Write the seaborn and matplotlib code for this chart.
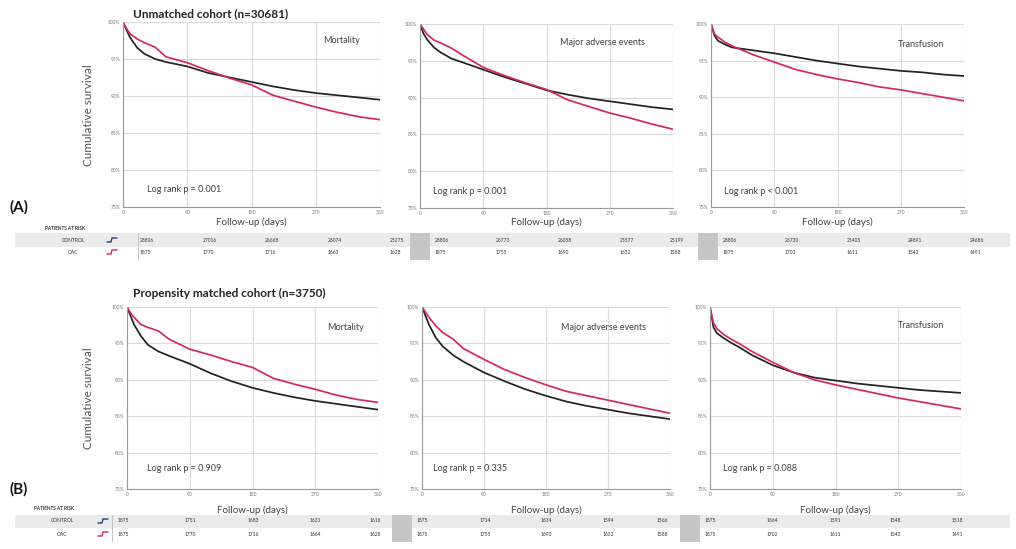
import numpy as np
import pandas as pd
import matplotlib
matplotlib.use("Agg")
import matplotlib.pyplot as plt
from matplotlib.lines import Line2D
from matplotlib.patches import Rectangle
import seaborn as sns

sns.set_theme(style="whitegrid")
plt.rcParams['font.family'] = ['Lato', 'DejaVu Sans']

# Dados (leitura aproximada do gráfico)
days = [0, 5, 10, 20, 30, 45, 60, 90, 120, 150, 180, 210, 240, 270, 300, 330, 360]

# Unmatched cohort
unm_mort_ctrl = [100, 98.9, 97.9, 96.5, 95.7, 95.0, 94.6, 94.0, 93.1, 92.5, 91.9, 91.3, 90.8, 90.4, 90.1, 89.8, 89.5]
unm_mort_oac = [100, 99.1, 98.4, 97.7, 97.2, 96.6, 95.3, 94.5, 93.4, 92.4, 91.5, 90.1, 89.3, 88.5, 87.8, 87.2, 86.8]
unm_mae_ctrl = [100, 98.7, 97.9, 96.8, 96.1, 95.3, 94.8, 93.8, 92.8, 91.9, 91.0, 90.4, 89.9, 89.5, 89.1, 88.7, 88.4]
unm_mae_oac = [100, 99.3, 98.6, 97.8, 97.4, 96.7, 95.8, 94.1, 93.0, 92.0, 91.1, 89.7, 88.8, 87.9, 87.2, 86.4, 85.7]
unm_trans_ctrl = [100, 98.4, 97.7, 97.2, 96.8, 96.6, 96.4, 96.0, 95.5, 95.0, 94.6, 94.2, 93.9, 93.6, 93.4, 93.1, 92.9]
unm_trans_oac = [100, 98.6, 98.2, 97.5, 97.0, 96.4, 95.8, 94.8, 93.8, 93.1, 92.5, 92.0, 91.4, 91.0, 90.5, 90.0, 89.5]

# Propensity matched cohort
pm_mort_ctrl = [100, 98.8, 97.6, 96.0, 94.8, 93.9, 93.3, 92.2, 90.9, 89.8, 88.9, 88.2, 87.6, 87.1, 86.7, 86.3, 85.9]
pm_mort_oac = [100, 99.2, 98.6, 97.6, 97.2, 96.7, 95.6, 94.2, 93.4, 92.5, 91.7, 90.2, 89.4, 88.7, 87.9, 87.3, 86.9]
pm_mae_ctrl = [100, 98.8, 97.6, 95.8, 94.6, 93.4, 92.5, 91.0, 89.8, 88.7, 87.8, 87.0, 86.4, 85.9, 85.4, 85.0, 84.6]
pm_mae_oac = [100, 99.3, 98.6, 97.4, 96.5, 95.6, 94.3, 92.8, 91.4, 90.3, 89.3, 88.4, 87.8, 87.2, 86.6, 86.0, 85.4]
pm_trans_ctrl = [100, 97.2, 96.4, 95.7, 95.1, 94.3, 93.4, 92.0, 91.0, 90.3, 89.9, 89.5, 89.2, 88.9, 88.6, 88.4, 88.2]
pm_trans_oac = [100, 97.8, 97.0, 96.2, 95.6, 94.8, 93.9, 92.4, 91.0, 90.0, 89.3, 88.7, 88.1, 87.5, 87.0, 86.5, 86.0]

outcomes = ['Mortality', 'Major adverse events', 'Transfusion']
pvals_top = ['Log rank p = 0.001', 'Log rank p = 0.001', 'Log rank p < 0.001']
pvals_bottom = ['Log rank p = 0.909', 'Log rank p = 0.335', 'Log rank p = 0.088']

x_ticks = [0, 90, 180, 270, 360]
y_ticks = [75, 80, 85, 90, 95, 100]
y_tick_labels = ['75%', '80%', '85%', '90%', '95%', '100%']

# Patients at risk
risk_top_ctrl = [[28806, 27016, 26668, 26074, 25275],
                 [28806, 26773, 26058, 25577, 25199],
                 [28806, 26730, 25405, 24891, 24686]]
risk_top_oac = [[1875, 1770, 1716, 1663, 1628],
                [1875, 1755, 1690, 1632, 1588],
                [1875, 1700, 1611, 1543, 1491]]
risk_bot_ctrl = [[1875, 1751, 1683, 1631, 1616],
                 [1875, 1714, 1634, 1594, 1566],
                 [1875, 1664, 1591, 1548, 1518]]
risk_bot_oac = [[1875, 1770, 1716, 1664, 1628],
                [1875, 1755, 1690, 1632, 1588],
                [1875, 1700, 1611, 1543, 1491]]

# Layout (pixels)
W, H = 1016, 549
BLACK = '#222222'
RED = '#d42a5b'
TXT = '#404040'

fig = plt.figure(figsize=(W / 100, H / 100), dpi=100)
fig.patch.set_facecolor('white')


def fx(x):
    return x / W


def fy(y):
    return 1 - y / H


def rect(x0, x1, y0, y1):
    return [x0 / W, 1 - y1 / H, (x1 - x0) / W, (y1 - y0) / H]


top_rects = [(123, 380, 22, 207), (420, 673, 24, 208), (711, 964, 24, 207)]
bot_rects = [(127, 378, 307, 489), (422, 670, 307, 489), (710, 961, 307, 489)]

top_curves = [(unm_mort_ctrl, unm_mort_oac), (unm_mae_ctrl, unm_mae_oac), (unm_trans_ctrl, unm_trans_oac)]
bot_curves = [(pm_mort_ctrl, pm_mort_oac), (pm_mae_ctrl, pm_mae_oac), (pm_trans_ctrl, pm_trans_oac)]

label_pos = [(0.85, 0.90), (0.72, 0.90), (0.83, 0.89)]
label_pos_bot = [(0.87, 0.89), (0.73, 0.89), (0.84, 0.90)]
p_pos = [(0.093, 0.097), (0.05, 0.09), (0.05, 0.085)]
p_pos_bot = [(0.08, 0.115), (0.045, 0.115), (0.05, 0.115)]


def draw_panel(r, curves, name, name_xy, ptxt, p_xy):
    ax = fig.add_axes(rect(*r))
    df = pd.DataFrame({
        'day': days * 2,
        'surv': curves[0] + curves[1],
        'grupo': ['CONTROL'] * len(days) + ['OAC'] * len(days),
    })
    sns.lineplot(data=df, x='day', y='surv', hue='grupo',
                 palette={'CONTROL': BLACK, 'OAC': RED},
                 linewidth=1.25, legend=False, ax=ax)
    ax.set_xlim(0, 360)
    ax.set_ylim(75, 100)
    ax.set_xticks(x_ticks)
    ax.set_xticklabels([str(t) for t in x_ticks])
    ax.set_yticks(y_ticks)
    ax.set_yticklabels(y_tick_labels)
    ax.tick_params(labelsize=3.5, colors='#777777', length=0, pad=2)
    ax.grid(True, color='#dadada', linewidth=0.8)
    ax.set_xlabel('')
    ax.set_ylabel('')
    ax.set_facecolor('white')
    for s in ['top', 'right']:
        ax.spines[s].set_visible(False)
    for s in ['left', 'bottom']:
        ax.spines[s].set_color('#9a9a9a')
        ax.spines[s].set_linewidth(0.8)
    ax.text(name_xy[0], name_xy[1], name, transform=ax.transAxes,
            ha='center', va='center', fontsize=6.5, color=TXT)
    ax.text(p_xy[0], p_xy[1], ptxt, transform=ax.transAxes,
            ha='left', va='center', fontsize=6.5, color=TXT)
    return ax


for i in range(3):
    draw_panel(top_rects[i], top_curves[i], outcomes[i], label_pos[i], pvals_top[i], p_pos[i])
    draw_panel(bot_rects[i], bot_curves[i], outcomes[i], label_pos_bot[i], pvals_bottom[i], p_pos_bot[i])
    cx_t = (top_rects[i][0] + top_rects[i][1]) / 2
    cx_b = (bot_rects[i][0] + bot_rects[i][1]) / 2
    fig.text(fx(cx_t), fy(222), 'Follow-up (days)', ha='center', va='center', fontsize=7, color=TXT)
    fig.text(fx(cx_b), fy(510), 'Follow-up (days)', ha='center', va='center', fontsize=7, color=TXT)

# Títulos e rótulos gerais
fig.text(fx(133), fy(14), 'Unmatched cohort (n=30681)', ha='left', va='center',
         fontsize=8.5, fontweight='bold', color='#222222')
fig.text(fx(133), fy(293), 'Propensity matched cohort (n=3750)', ha='left', va='center',
         fontsize=8.5, fontweight='bold', color='#222222')
fig.text(fx(88), fy(115), 'Cumulative survival', rotation=90, ha='center', va='center',
         fontsize=8.5, color='#555555')
fig.text(fx(88), fy(398), 'Cumulative survival', rotation=90, ha='center', va='center',
         fontsize=8.5, color='#555555')
fig.text(fx(10), fy(207), '(A)', ha='left', va='center', fontsize=11, fontweight='bold', color='#111111')
fig.text(fx(10), fy(489), '(B)', ha='left', va='center', fontsize=11, fontweight='bold', color='#111111')


def icon(x, y, color):
    xs = [x, x + 4, x + 5, x + 10]
    ys = [y + 2, y + 2, y - 2, y - 2]
    fig.add_artist(Line2D([fx(v) for v in xs], [fy(v) for v in ys], color=color,
                          linewidth=1.0, transform=fig.transFigure))


def risk_table(y_head, y_band, y_rows, label_x, icon_x, sep_x, cols, squares, ctrl, oac):
    fig.text(fx(label_x - 28), fy(y_head), 'PATIENTS AT RISK', ha='left', va='center',
             fontsize=3.3, fontweight='bold', color='#333333')
    fig.add_artist(Rectangle((fx(15), fy(y_band[1])), fx(1010) - fx(15), fy(y_band[0]) - fy(y_band[1]),
                             transform=fig.transFigure, facecolor='#ebebeb', edgecolor='none', zorder=0))
    for sx in squares:
        fig.add_artist(Rectangle((fx(sx), fy(y_rows[1] + 8)), fx(sx + 20) - fx(sx),
                                 fy(y_band[0]) - fy(y_rows[1] + 8),
                                 transform=fig.transFigure, facecolor='#c6c6c6', edgecolor='none', zorder=1))
    if sep_x is not None:
        fig.add_artist(Line2D([fx(sep_x), fx(sep_x)], [fy(y_band[0]), fy(y_rows[1] + 7)],
                              color='#bbbbbb', linewidth=0.6, transform=fig.transFigure))
    fig.text(fx(label_x), fy(y_rows[0]), 'CONTROL', ha='center', va='center', fontsize=3.5, color='#333333')
    fig.text(fx(label_x), fy(y_rows[1]), 'OAC', ha='center', va='center', fontsize=3.5, color='#333333')
    icon(icon_x, y_rows[0], '#2b3f7a')
    icon(icon_x, y_rows[1], RED)
    for p in range(3):
        for j in range(5):
            fig.text(fx(cols[p][j]), fy(y_rows[0]), str(ctrl[p][j]), ha='left', va='center',
                     fontsize=3.5, color='#333333')
            fig.text(fx(cols[p][j]), fy(y_rows[1]), str(oac[p][j]), ha='left', va='center',
                     fontsize=3.5, color='#333333')


top_cols = [[140, 203, 265, 328, 390], [435, 496, 558, 620, 670], [723, 785, 847, 908, 970]]
bot_cols = [[118, 185, 248, 310, 370], [417, 480, 541, 603, 657], [705, 767, 830, 890, 952]]

risk_table(228, (233, 247), (240, 252), 73, 107, 138, top_cols, [410, 698], risk_top_ctrl, risk_top_oac)
risk_table(509, (515, 528), (521, 534), 62, 98, 112, bot_cols, [392, 680], risk_bot_ctrl, risk_bot_oac)

fig.savefig('out.png', dpi=100, facecolor='white')
